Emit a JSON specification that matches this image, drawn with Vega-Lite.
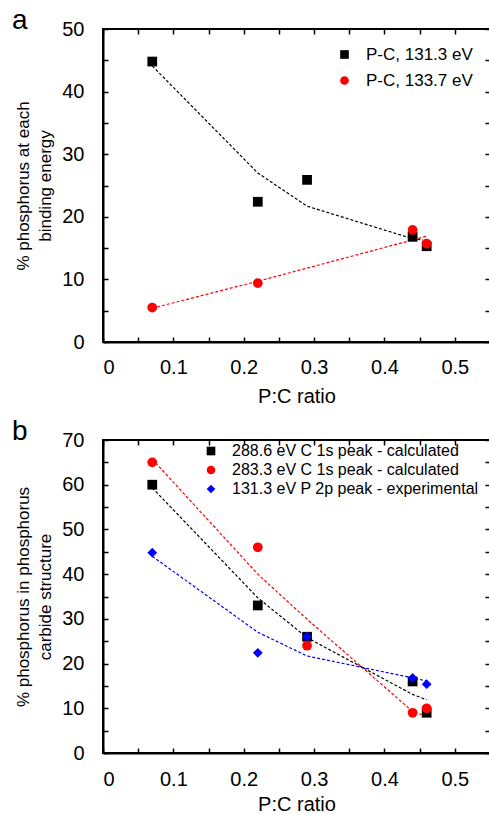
{
  "$schema": "https://vega.github.io/schema/vega-lite/v6.json",
  "background": "white",
  "padding": {"left": 11, "top": 6, "right": 0, "bottom": 0},
  "spacing": 10,
  "resolve": {"scale": {"color": "independent", "shape": "independent"}},
  "datasets": {
    "fitA": [
      {"ratio": 0.07, "pct": 44.1, "series": "P-C, 131.3 eV"},
      {"ratio": 0.22, "pct": 27.0, "series": "P-C, 131.3 eV"},
      {"ratio": 0.29, "pct": 21.7, "series": "P-C, 131.3 eV"},
      {"ratio": 0.44, "pct": 16.5, "series": "P-C, 131.3 eV"},
      {"ratio": 0.455, "pct": 16.3, "series": "P-C, 131.3 eV"},
      {"ratio": 0.07, "pct": 5.4, "series": "P-C, 133.7 eV"},
      {"ratio": 0.22, "pct": 9.7, "series": "P-C, 133.7 eV"},
      {"ratio": 0.29, "pct": 11.8, "series": "P-C, 133.7 eV"},
      {"ratio": 0.44, "pct": 16.3, "series": "P-C, 133.7 eV"},
      {"ratio": 0.46, "pct": 16.9, "series": "P-C, 133.7 eV"}
    ],
    "ptsA": [
      {"ratio": 0.07, "pct": 44.8, "series": "P-C, 131.3 eV"},
      {"ratio": 0.22, "pct": 22.4, "series": "P-C, 131.3 eV"},
      {"ratio": 0.29, "pct": 25.9, "series": "P-C, 131.3 eV"},
      {"ratio": 0.44, "pct": 16.8, "series": "P-C, 131.3 eV"},
      {"ratio": 0.46, "pct": 15.3, "series": "P-C, 131.3 eV"},
      {"ratio": 0.07, "pct": 5.5, "series": "P-C, 133.7 eV"},
      {"ratio": 0.22, "pct": 9.4, "series": "P-C, 133.7 eV"},
      {"ratio": 0.44, "pct": 17.9, "series": "P-C, 133.7 eV"},
      {"ratio": 0.46, "pct": 15.7, "series": "P-C, 133.7 eV"}
    ],
    "fitB": [
      {"ratio": 0.07, "pct": 59.3, "series": "288.6 eV C 1s peak - calculated"},
      {"ratio": 0.22, "pct": 34.7, "series": "288.6 eV C 1s peak - calculated"},
      {"ratio": 0.29, "pct": 25.8, "series": "288.6 eV C 1s peak - calculated"},
      {"ratio": 0.44, "pct": 13.1, "series": "288.6 eV C 1s peak - calculated"},
      {"ratio": 0.46, "pct": 11.9, "series": "288.6 eV C 1s peak - calculated"},
      {"ratio": 0.07, "pct": 65.7, "series": "283.3 eV C 1s peak - calculated"},
      {"ratio": 0.22, "pct": 40.0, "series": "283.3 eV C 1s peak - calculated"},
      {"ratio": 0.29, "pct": 29.9, "series": "283.3 eV C 1s peak - calculated"},
      {"ratio": 0.44, "pct": 9.3, "series": "283.3 eV C 1s peak - calculated"},
      {"ratio": 0.46, "pct": 8.2, "series": "283.3 eV C 1s peak - calculated"},
      {"ratio": 0.07, "pct": 44.0, "series": "131.3 eV P 2p peak - experimental"},
      {"ratio": 0.22, "pct": 27.0, "series": "131.3 eV P 2p peak - experimental"},
      {"ratio": 0.29, "pct": 21.7, "series": "131.3 eV P 2p peak - experimental"},
      {"ratio": 0.44, "pct": 16.8, "series": "131.3 eV P 2p peak - experimental"},
      {"ratio": 0.46, "pct": 16.1, "series": "131.3 eV P 2p peak - experimental"}
    ],
    "ptsB": [
      {"ratio": 0.07, "pct": 60, "series": "288.6 eV C 1s peak - calculated"},
      {"ratio": 0.22, "pct": 33, "series": "288.6 eV C 1s peak - calculated"},
      {"ratio": 0.29, "pct": 26, "series": "288.6 eV C 1s peak - calculated"},
      {"ratio": 0.44, "pct": 16, "series": "288.6 eV C 1s peak - calculated"},
      {"ratio": 0.46, "pct": 9, "series": "288.6 eV C 1s peak - calculated"},
      {"ratio": 0.07, "pct": 65, "series": "283.3 eV C 1s peak - calculated"},
      {"ratio": 0.22, "pct": 46, "series": "283.3 eV C 1s peak - calculated"},
      {"ratio": 0.29, "pct": 24, "series": "283.3 eV C 1s peak - calculated"},
      {"ratio": 0.44, "pct": 9, "series": "283.3 eV C 1s peak - calculated"},
      {"ratio": 0.46, "pct": 10, "series": "283.3 eV C 1s peak - calculated"},
      {"ratio": 0.07, "pct": 44.8, "series": "131.3 eV P 2p peak - experimental"},
      {"ratio": 0.22, "pct": 22.4, "series": "131.3 eV P 2p peak - experimental"},
      {"ratio": 0.29, "pct": 26, "series": "131.3 eV P 2p peak - experimental"},
      {"ratio": 0.44, "pct": 16.8, "series": "131.3 eV P 2p peak - experimental"},
      {"ratio": 0.46, "pct": 15.4, "series": "131.3 eV P 2p peak - experimental"}
    ]
  },
  "config": {
    "font": "Liberation Sans",
    "view": {"stroke": "black", "strokeWidth": 2},
    "axis": {
      "grid": false,
      "domainColor": "black",
      "domainWidth": 2,
      "tickColor": "black",
      "tickWidth": 1.5,
      "tickSize": -5,
      "labelFont": "Liberation Sans",
      "labelFontSize": 20,
      "labelColor": "black",
      "titleFont": "Liberation Sans",
      "titleColor": "black",
      "titleFontWeight": "normal"
    },
    "legend": {
      "labelFont": "Liberation Sans",
      "labelColor": "black",
      "labelFontSize": 17,
      "labelOffset": 13,
      "labelLimit": 0,
      "symbolSize": 75,
      "symbolStrokeWidth": 0,
      "padding": 0
    }
  },
  "vconcat": [
    {
      "width": 387,
      "height": 313,
      "title": {"text": "a", "anchor": "start", "frame": "group", "dx": -91, "fontSize": 28, "fontWeight": "normal", "color": "black", "baseline": "alphabetic", "offset": -38},
      "layer": [
        {
          "data": {"name": "fitA"},
          "transform": [{"filter": {"field": "series", "equal": "P-C, 131.3 eV"}}],
          "mark": {"type": "line", "color": "#000000", "strokeWidth": 1.2, "strokeDash": [3, 2]},
          "encoding": {
            "x": {"field": "ratio", "type": "quantitative", "scale": {"domain": [0, 0.55], "nice": false},
              "axis": {"orient": "top", "values": [0, 0.05, 0.1, 0.15, 0.2, 0.25, 0.3, 0.35, 0.4, 0.45, 0.5], "labels": false, "domain": false, "title": null}},
            "y": {"field": "pct", "type": "quantitative", "scale": {"domain": [0, 50], "nice": false},
              "axis": {"orient": "right", "values": [0, 5, 10, 15, 20, 25, 30, 35, 40, 45, 50], "labels": false, "domain": false, "title": null}}
          }
        },
        {
          "data": {"name": "fitA"},
          "transform": [{"filter": {"field": "series", "equal": "P-C, 133.7 eV"}}],
          "mark": {"type": "line", "color": "#ff0000", "strokeWidth": 1.2, "strokeDash": [3, 2]},
          "encoding": {
            "x": {"field": "ratio", "type": "quantitative", "axis": null},
            "y": {"field": "pct", "type": "quantitative", "axis": null}
          }
        },
        {
          "data": {"name": "ptsA"},
          "mark": {"type": "point", "filled": true, "opacity": 1, "size": 95},
          "encoding": {
            "x": {"field": "ratio", "type": "quantitative",
              "axis": {"orient": "bottom", "values": [0, 0.05, 0.1, 0.15, 0.2, 0.25, 0.3, 0.35, 0.4, 0.45, 0.5],
                "labelExpr": "round(datum.value*100) % 10 == 0 ? format(datum.value, '~g') : ''",
                "labelPadding": 20, "title": "P:C ratio", "titleFontSize": 20, "titlePadding": 9}},
            "y": {"field": "pct", "type": "quantitative",
              "axis": {"orient": "left", "values": [0, 5, 10, 15, 20, 25, 30, 35, 40, 45, 50],
                "labelExpr": "datum.value % 10 == 0 ? datum.label : ''",
                "labelPadding": 24, "title": ["% phosphorus at each", "binding energy"], "titleFontSize": 17, "titleLineHeight": 22, "titlePadding": 7}},
            "color": {"field": "series", "type": "nominal", "scale": {"domain": ["P-C, 131.3 eV", "P-C, 133.7 eV"], "range": ["#000000", "#ff0000"]},
              "legend": {"title": null, "orient": "top-right", "offset": 17, "rowPadding": 8}},
            "shape": {"field": "series", "type": "nominal", "scale": {"domain": ["P-C, 131.3 eV", "P-C, 133.7 eV"], "range": ["square", "circle"]},
              "legend": {"title": null, "orient": "top-right", "offset": 17, "rowPadding": 8}}
          }
        }
      ],
      "resolve": {"axis": {"x": "independent", "y": "independent"}}
    },
    {
      "width": 387,
      "height": 313,
      "title": {"text": "b", "anchor": "start", "frame": "group", "dx": -91, "fontSize": 28, "fontWeight": "normal", "color": "black", "baseline": "alphabetic", "offset": -38},
      "layer": [
        {
          "data": {"name": "fitB"},
          "transform": [{"filter": {"field": "series", "equal": "288.6 eV C 1s peak - calculated"}}],
          "mark": {"type": "line", "color": "#000000", "strokeWidth": 1.2, "strokeDash": [3, 2]},
          "encoding": {
            "x": {"field": "ratio", "type": "quantitative", "scale": {"domain": [0, 0.55], "nice": false},
              "axis": {"orient": "top", "values": [0, 0.05, 0.1, 0.15, 0.2, 0.25, 0.3, 0.35, 0.4, 0.45, 0.5], "labels": false, "domain": false, "title": null}},
            "y": {"field": "pct", "type": "quantitative", "scale": {"domain": [0, 70], "nice": false},
              "axis": {"orient": "right", "values": [0, 5, 10, 15, 20, 25, 30, 35, 40, 45, 50, 55, 60, 65, 70], "labels": false, "domain": false, "title": null}}
          }
        },
        {
          "data": {"name": "fitB"},
          "transform": [{"filter": {"field": "series", "equal": "283.3 eV C 1s peak - calculated"}}],
          "mark": {"type": "line", "color": "#ff0000", "strokeWidth": 1.2, "strokeDash": [3, 2]},
          "encoding": {
            "x": {"field": "ratio", "type": "quantitative", "axis": null},
            "y": {"field": "pct", "type": "quantitative", "axis": null}
          }
        },
        {
          "data": {"name": "fitB"},
          "transform": [{"filter": {"field": "series", "equal": "131.3 eV P 2p peak - experimental"}}],
          "mark": {"type": "line", "color": "#0000ff", "strokeWidth": 1.2, "strokeDash": [3, 2]},
          "encoding": {
            "x": {"field": "ratio", "type": "quantitative", "axis": null},
            "y": {"field": "pct", "type": "quantitative", "axis": null}
          }
        },
        {
          "data": {"name": "ptsB"},
          "mark": {"type": "point", "filled": true, "opacity": 1, "size": 95},
          "encoding": {
            "x": {"field": "ratio", "type": "quantitative",
              "axis": {"orient": "bottom", "values": [0, 0.05, 0.1, 0.15, 0.2, 0.25, 0.3, 0.35, 0.4, 0.45, 0.5],
                "labelExpr": "round(datum.value*100) % 10 == 0 ? format(datum.value, '~g') : ''",
                "labelPadding": 21, "title": "P:C ratio", "titleFontSize": 20, "titlePadding": 5}},
            "y": {"field": "pct", "type": "quantitative",
              "axis": {"orient": "left", "values": [0, 5, 10, 15, 20, 25, 30, 35, 40, 45, 50, 55, 60, 65, 70],
                "labelExpr": "datum.value % 10 == 0 ? datum.label : ''",
                "labelPadding": 24, "title": ["% phosphorus in phosphorus", "carbide structure"], "titleFontSize": 17, "titleLineHeight": 22, "titlePadding": 7}},
            "color": {"field": "series", "type": "nominal", "scale": {"domain": ["288.6 eV C 1s peak - calculated", "283.3 eV C 1s peak - calculated", "131.3 eV P 2p peak - experimental"], "range": ["#000000", "#ff0000", "#0000ff"]},
              "legend": {"title": null, "orient": "none", "legendX": 100, "legendY": 3, "rowPadding": 3, "labelFontSize": 16}},
            "shape": {"field": "series", "type": "nominal", "scale": {"domain": ["288.6 eV C 1s peak - calculated", "283.3 eV C 1s peak - calculated", "131.3 eV P 2p peak - experimental"], "range": ["square", "circle", "diamond"]},
              "legend": {"title": null, "orient": "none", "legendX": 100, "legendY": 3, "rowPadding": 3, "labelFontSize": 16}}
          }
        }
      ],
      "resolve": {"axis": {"x": "independent", "y": "independent"}}
    }
  ]
}
